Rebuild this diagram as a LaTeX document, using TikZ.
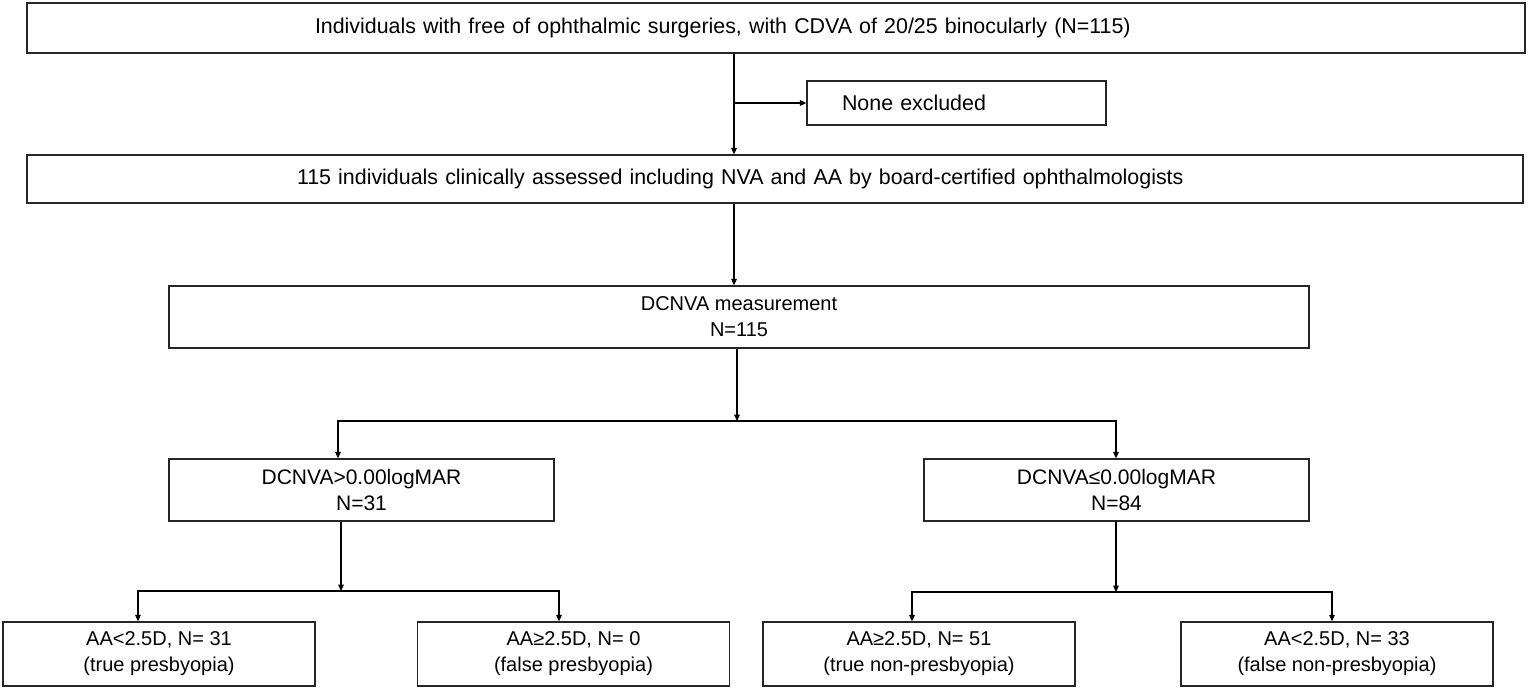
\documentclass[tikz,border=0pt]{standalone}
\usepackage{fontspec}
\setmainfont{Liberation Sans}
\usetikzlibrary{arrows.meta}
\begin{document}
\begin{tikzpicture}[x=0.5pt,y=-0.5pt,
  box/.style={draw=black!85, line width=0.7pt, rectangle, inner sep=0pt,
    font=\fontsize{10}{13}\selectfont, align=center},
  bigtxt/.style={font=\fontsize{10.7}{13}\selectfont},
  midtxt/.style={font=\fontsize{10.5}{13}\selectfont},
  conn/.style={draw=black, line width=0.7pt},
  arr/.style={conn, -{Triangle[length=3.2pt,width=2.8pt]}}]
\useasboundingbox (0,0) rectangle (1528,690);
% boxes
\node[box, bigtxt, minimum width=749pt, minimum height=25pt, text width=461pt, align=left]
  (top) at (776,28) {Individuals with free of ophthalmic surgeries, with CDVA of 20/25 binocularly (N=115)};
\node[box, bigtxt, minimum width=149.5pt, minimum height=22pt, text width=114.5pt, align=left]
  (none) at (956.5,103) {None excluded};
\node[box, bigtxt, minimum width=748pt, minimum height=24pt, text width=478pt, align=left]
  (second) at (775,179) {115 individuals clinically assessed including NVA and AA by board-certified ophthalmologists};
\node[box, minimum width=570pt, minimum height=31pt] (meas) at (739,317) {DCNVA measurement\\N=115};
\node[box, midtxt, minimum width=192.5pt, minimum height=31pt] (midL) at (361.5,490) {DCNVA>0.00logMAR\\N=31};
\node[box, midtxt, minimum width=192.5pt, minimum height=31pt] (midR) at (1116.5,490) {DCNVA≤0.00logMAR\\N=84};
\node[box, minimum width=156pt, minimum height=32pt] (b1) at (159,654) {AA<2.5D, N= 31\\(true presbyopia)};
\node[box, minimum width=156pt, minimum height=32pt] (b2) at (573.5,654) {AA≥2.5D, N= 0\\(false presbyopia)};
\node[box, minimum width=156pt, minimum height=32pt] (b3) at (919,654) {AA≥2.5D, N= 51\\(true non-presbyopia)};
\node[box, minimum width=156pt, minimum height=32pt] (b4) at (1337,654) {AA<2.5D, N= 33\\(false non-presbyopia)};
% junction coordinates
\coordinate (t1) at (734,98);
\coordinate (m1) at (734,250);
\coordinate (j1) at (737,421);
\coordinate (jL) at (338,421);
\coordinate (jR) at (1116,421);
\coordinate (k1) at (341,591);
\coordinate (kL) at (138,591);
\coordinate (kR) at (559,591);
\coordinate (l1) at (1116,592);
\coordinate (lL) at (912,592);
\coordinate (lR) at (1332,592);
% connectors
\draw[arr] (top.south -| t1) -- (second.north -| t1);
\draw[arr] (t1 |- none.west) -- (none.west);
\draw[arr] (second.south -| m1) -- (meas.north -| m1);
\draw[arr] (meas.south -| j1) -- (j1);
\draw[arr] (j1) -- (jL) -- (midL.north -| jL);
\draw[arr] (j1) -- (jR) -- (midR.north -| jR);
\draw[arr] (midL.south -| k1) -- (k1);
\draw[arr] (k1) -- (kL) -- (b1.north -| kL);
\draw[arr] (k1) -- (kR) -- (b2.north -| kR);
\draw[arr] (midR.south -| l1) -- (l1);
\draw[arr] (l1) -- (lL) -- (b3.north -| lL);
\draw[arr] (l1) -- (lR) -- (b4.north -| lR);
\end{tikzpicture}
\end{document}
